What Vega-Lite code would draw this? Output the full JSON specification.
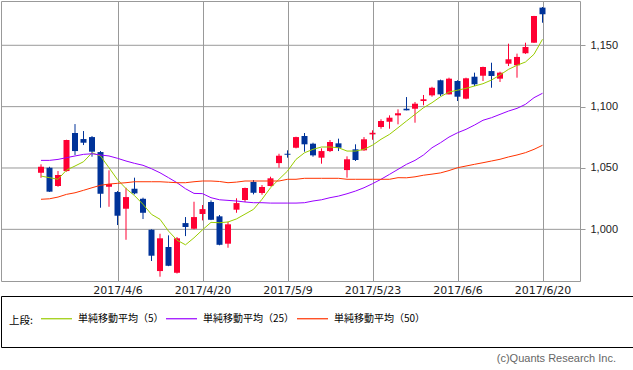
{
"$schema": "https://vega.github.io/schema/vega-lite/v6.json",
"padding": 0,
"background": "white",
"bounds": "flush",
"spacing": 15,
"config": {"view": {"stroke": "#999999", "strokeWidth": 1}},
"datasets": {"p": [
{"d":"2017/3/24","o":1046.1,"h":1053,"l":1042,"c":1051,"m5":1043.4,"m25":1056.2,"m50":1024.5},
{"d":"2017/3/27","o":1050.2,"h":1051,"l":1030.5,"c":1030.7,"m5":1042.1,"m25":1056.2,"m50":1024.9},
{"d":"2017/3/28","o":1035.3,"h":1047.5,"l":1034.7,"c":1044.3,"m5":1040.8,"m25":1057,"m50":1026.3},
{"d":"2017/3/29","o":1047.5,"h":1073,"l":1047,"c":1072.8,"m5":1048.3,"m25":1058.4,"m50":1028.5},
{"d":"2017/3/30","o":1078.5,"h":1085.8,"l":1060.6,"c":1063.8,"m5":1051.6,"m25":1059.8,"m50":1029.8},
{"d":"2017/3/31","o":1073.6,"h":1080.1,"l":1068.7,"c":1070.6,"m5":1055.1,"m25":1061.1,"m50":1031.8},
{"d":"2017/4/3","o":1075.2,"h":1076,"l":1059.2,"c":1063.3,"m5":1062.4,"m25":1061.6,"m50":1033.9},
{"d":"2017/4/4","o":1063,"h":1063.8,"l":1017.6,"c":1029,"m5":1059.8,"m25":1060.6,"m50":1035.9},
{"d":"2017/4/5","o":1034.7,"h":1048.1,"l":1018.4,"c":1036.9,"m5":1050.2,"m25":1059.8,"m50":1036.9},
{"d":"2017/4/6","o":1030.4,"h":1031.2,"l":1003.5,"c":1011.1,"m5":1040.5,"m25":1057.9,"m50":1037.5},
{"d":"2017/4/7","o":1016.8,"h":1033.9,"l":991.5,"c":1026.3,"m5":1033.2,"m25":1055.7,"m50":1038},
{"d":"2017/4/10","o":1033.1,"h":1042.1,"l":1028.5,"c":1029.3,"m5":1027.5,"m25":1053.8,"m50":1038.8},
{"d":"2017/4/11","o":1024.9,"h":1025.8,"l":1008.4,"c":1013.5,"m5":1020.4,"m25":1052.2,"m50":1038.8},
{"d":"2017/4/12","o":999.7,"h":1000,"l":974.2,"c":978.5,"m5":1012.2,"m25":1049.4,"m50":1038.8},
{"d":"2017/4/13","o":966,"h":996.4,"l":961.4,"c":992.7,"m5":1008.2,"m25":1046.1,"m50":1038.8},
{"d":"2017/4/14","o":985.6,"h":995.1,"l":970,"c":970.3,"m5":998.6,"m25":1042.1,"m50":1038.4},
{"d":"2017/4/17","o":964.6,"h":993.7,"l":964,"c":992.7,"m5":991.2,"m25":1038,"m50":1038},
{"d":"2017/4/18","o":1005.1,"h":1010,"l":994.5,"c":1001.9,"m5":987.4,"m25":1033.1,"m50":1038},
{"d":"2017/4/19","o":1000.5,"h":1022.5,"l":1000,"c":1010,"m5":993.1,"m25":1029.3,"m50":1038.8},
{"d":"2017/4/20","o":1012.5,"h":1019.8,"l":1007.3,"c":1016.5,"m5":999.6,"m25":1029.1,"m50":1039.4},
{"d":"2017/4/21","o":1022.3,"h":1023.6,"l":1007.5,"c":1007.8,"m5":1005.7,"m25":1025.8,"m50":1039.4},
{"d":"2017/4/24","o":1010.6,"h":1011.7,"l":987,"c":987.4,"m5":1005.4,"m25":1024.1,"m50":1039},
{"d":"2017/4/25","o":988.3,"h":1006.2,"l":985,"c":1004.1,"m5":1006,"m25":1023.6,"m50":1038},
{"d":"2017/4/26","o":1016,"h":1025.3,"l":1013.5,"c":1021.4,"m5":1008.5,"m25":1023.1,"m50":1038.5},
{"d":"2017/4/27","o":1023.9,"h":1034,"l":1022.3,"c":1033.7,"m5":1012.4,"m25":1022.3,"m50":1039.4},
{"d":"2017/4/28","o":1038.6,"h":1040.2,"l":1028.5,"c":1029.8,"m5":1016.3,"m25":1021.7,"m50":1039.4},
{"d":"2017/5/1","o":1029.6,"h":1036.1,"l":1028.2,"c":1034.5,"m5":1024.5,"m25":1021.7,"m50":1039.4},
{"d":"2017/5/2","o":1035.3,"h":1042.9,"l":1035,"c":1041.6,"m5":1033.9,"m25":1021.4,"m50":1039.4},
{"d":"2017/5/8","o":1054,"h":1061.6,"l":1050.2,"c":1060,"m5":1040.8,"m25":1021.4,"m50":1039.4},
{"d":"2017/5/9","o":1061.6,"h":1064.4,"l":1058.4,"c":1060.8,"m5":1047.5,"m25":1021.4,"m50":1040.8},
{"d":"2017/5/10","o":1066.5,"h":1075.5,"l":1066,"c":1075.2,"m5":1057,"m25":1021.4,"m50":1040.8},
{"d":"2017/5/11","o":1076.1,"h":1078.5,"l":1063.3,"c":1069.3,"m5":1062.4,"m25":1021.7,"m50":1041.6},
{"d":"2017/5/12","o":1069.8,"h":1070.6,"l":1059.2,"c":1060.3,"m5":1065.2,"m25":1023.1,"m50":1041.6},
{"d":"2017/5/15","o":1058.4,"h":1066,"l":1053.5,"c":1063.8,"m5":1067.1,"m25":1024.1,"m50":1041.6},
{"d":"2017/5/16","o":1063.8,"h":1072.8,"l":1063,"c":1071.2,"m5":1067.1,"m25":1025.8,"m50":1041.6},
{"d":"2017/5/17","o":1070.1,"h":1073.9,"l":1063.8,"c":1066.5,"m5":1066.5,"m25":1027.1,"m50":1041.6},
{"d":"2017/5/18","o":1048.3,"h":1059.5,"l":1042.1,"c":1057.1,"m5":1063.8,"m25":1029,"m50":1040.8},
{"d":"2017/5/19","o":1065.2,"h":1069.3,"l":1055.7,"c":1056.5,"m5":1063.8,"m25":1031.2,"m50":1040.8},
{"d":"2017/5/22","o":1064.4,"h":1075.2,"l":1064,"c":1073.4,"m5":1065.2,"m25":1033.9,"m50":1040.8},
{"d":"2017/5/23","o":1077.4,"h":1080.7,"l":1073,"c":1078.7,"m5":1068.6,"m25":1037.2,"m50":1040.8},
{"d":"2017/5/24","o":1083.4,"h":1089.7,"l":1082,"c":1088.3,"m5":1073.4,"m25":1040.8,"m50":1040.8},
{"d":"2017/5/25","o":1087.7,"h":1092.9,"l":1082,"c":1091,"m5":1077.4,"m25":1044.8,"m50":1040.8},
{"d":"2017/5/26","o":1092.9,"h":1097.8,"l":1085.6,"c":1094.6,"m5":1082.8,"m25":1048.9,"m50":1042.1},
{"d":"2017/5/29","o":1098.3,"h":1107.8,"l":1097,"c":1097,"m5":1088.3,"m25":1053,"m50":1042},
{"d":"2017/5/30","o":1098.3,"h":1103.8,"l":1086.9,"c":1102.4,"m5":1093.7,"m25":1056.2,"m50":1042.8},
{"d":"2017/5/31","o":1104.6,"h":1109.5,"l":1101.1,"c":1106,"m5":1099.1,"m25":1060.6,"m50":1044.1},
{"d":"2017/6/1","o":1109.2,"h":1116.2,"l":1108.1,"c":1115.4,"m5":1103.2,"m25":1066.5,"m50":1045},
{"d":"2017/6/2","o":1121.5,"h":1122,"l":1108.7,"c":1110,"m5":1108.1,"m25":1070.6,"m50":1046},
{"d":"2017/6/5","o":1110,"h":1123.6,"l":1110,"c":1122.8,"m5":1111.9,"m25":1075.2,"m50":1047.9},
{"d":"2017/6/6","o":1120.9,"h":1121.5,"l":1104.6,"c":1108.1,"m5":1113.4,"m25":1078.7,"m50":1050.2},
{"d":"2017/6/7","o":1106.5,"h":1123.6,"l":1106,"c":1123.1,"m5":1114.9,"m25":1081.5,"m50":1051.6},
{"d":"2017/6/8","o":1124.4,"h":1127.7,"l":1116.8,"c":1118.2,"m5":1116.8,"m25":1085,"m50":1053},
{"d":"2017/6/9","o":1125.2,"h":1132.6,"l":1120.9,"c":1132.3,"m5":1118.7,"m25":1088.9,"m50":1054.3},
{"d":"2017/6/12","o":1129,"h":1135.8,"l":1115.4,"c":1125,"m5":1121.7,"m25":1091,"m50":1055.7},
{"d":"2017/6/13","o":1122.8,"h":1128.5,"l":1120.1,"c":1127.7,"m5":1125.8,"m25":1093.7,"m50":1057.1},
{"d":"2017/6/14","o":1135,"h":1151.3,"l":1133.1,"c":1138.6,"m5":1130.4,"m25":1096.4,"m50":1059},
{"d":"2017/6/15","o":1133.7,"h":1143.2,"l":1123.6,"c":1140.5,"m5":1133.7,"m25":1098.6,"m50":1060.6},
{"d":"2017/6/16","o":1143.5,"h":1152.1,"l":1143,"c":1148.6,"m5":1136.4,"m25":1101.9,"m50":1062.5},
{"d":"2017/6/19","o":1152.1,"h":1174,"l":1152,"c":1173.9,"m5":1142.7,"m25":1107.3,"m50":1065.2},
{"d":"2017/6/20","o":1180.7,"h":1181.2,"l":1168.4,"c":1175.3,"m5":1154.9,"m25":1110.9,"m50":1068.5}
]},
"vconcat": [
{
 "width": 579,
 "height": 280,
 "layer": [
  {"data": {"values": [{"g":1000},{"g":1050},{"g":1100},{"g":1150}]},
   "mark": {"type": "rule", "color": "#999999", "strokeWidth": 1},
   "encoding": {
    "y": {"field": "g", "type": "quantitative",
     "scale": {"domain": [957.9, 1186.1], "nice": false, "zero": false},
     "axis": {"orient": "right", "values": [1000,1050,1100,1150], "format": ",d", "grid": false,
      "tickColor": "#999999", "tickSize": 5, "domain": false,
      "labelFont": "Liberation Sans", "labelFontSize": 11, "labelColor": "#222222", "labelPadding": 5, "title": null}}
   }},
  {"data": {"name": "p"},
   "mark": {"type": "rule", "strokeWidth": 1},
   "encoding": {
    "x": {"field": "d", "type": "ordinal", "sort": null,
     "scale": {"type": "point", "range": [40, 541.5], "padding": 0},
     "axis": {"values": ["2017/4/6","2017/4/20","2017/5/9","2017/5/23","2017/6/6","2017/6/20"],
      "grid": true, "gridColor": "#999999", "gridWidth": 1, "ticks": false, "domain": false,
      "labelAngle": 0, "labelFont": "DejaVu Sans", "labelFontSize": 11, "labelColor": "#222222",
      "labelPadding": 3, "title": null}},
    "y": {"field": "l", "type": "quantitative"},
    "y2": {"field": "h"},
    "color": {"condition": {"test": "datum.c >= datum.o", "value": "#ff0033"}, "value": "#003399"}
   }},
  {"data": {"name": "p"},
   "mark": {"type": "bar", "size": 6},
   "encoding": {
    "x": {"field": "d", "type": "ordinal", "sort": null},
    "y": {"field": "o", "type": "quantitative"},
    "y2": {"field": "c"},
    "color": {"condition": {"test": "datum.c >= datum.o", "value": "#ff0033"}, "value": "#003399"}
   }},
  {"data": {"name": "p"},
   "transform": [{"fold": ["m5","m25","m50"], "as": ["s","v"]}],
   "mark": {"type": "line", "strokeWidth": 1},
   "encoding": {
    "x": {"field": "d", "type": "ordinal", "sort": null},
    "y": {"field": "v", "type": "quantitative"},
    "color": {"field": "s", "type": "nominal",
     "scale": {"domain": ["m5","m25","m50"], "range": ["#99cc00","#9900ff","#ff3300"]},
     "legend": {"orient": "none", "legendX": 8, "legendY": 301, "direction": "horizontal",
      "title": "上段:", "titleOrient": "left", "titleAnchor": "middle", "titleBaseline": "line-top", "titleLineHeight": 16,
      "titleFont": "Noto Sans CJK JP", "titleFontSize": 10.5,
      "titleFontWeight": "normal", "titleColor": "#000000", "titlePadding": 7,
      "labelFont": "Noto Sans CJK JP", "labelFontSize": 10, "labelColor": "#000000",
      "symbolType": "stroke", "symbolSize": 961, "symbolStrokeWidth": 1.2, "labelOffset": 5, "columnPadding": -1,
      "labelExpr": "datum.value == 'm5' ? '単純移動平均（5）' : datum.value == 'm25' ? '単純移動平均（25）' : '単純移動平均（50）'"}}
   }}
 ]
},
{
 "width": 632,
 "height": 51,
 "view": {"stroke": "#000000", "strokeWidth": 1},
 "data": {"values": [{}]},
 "mark": {"type": "text"},
 "encoding": {"text": {"value": ""}},
 "title": {"text": "(c)Quants Research Inc.", "orient": "bottom", "anchor": "end", "dx": -17, "offset": 6,
  "font": "Liberation Sans", "fontSize": 11, "fontWeight": "normal", "color": "#666666"}
}
]
}
